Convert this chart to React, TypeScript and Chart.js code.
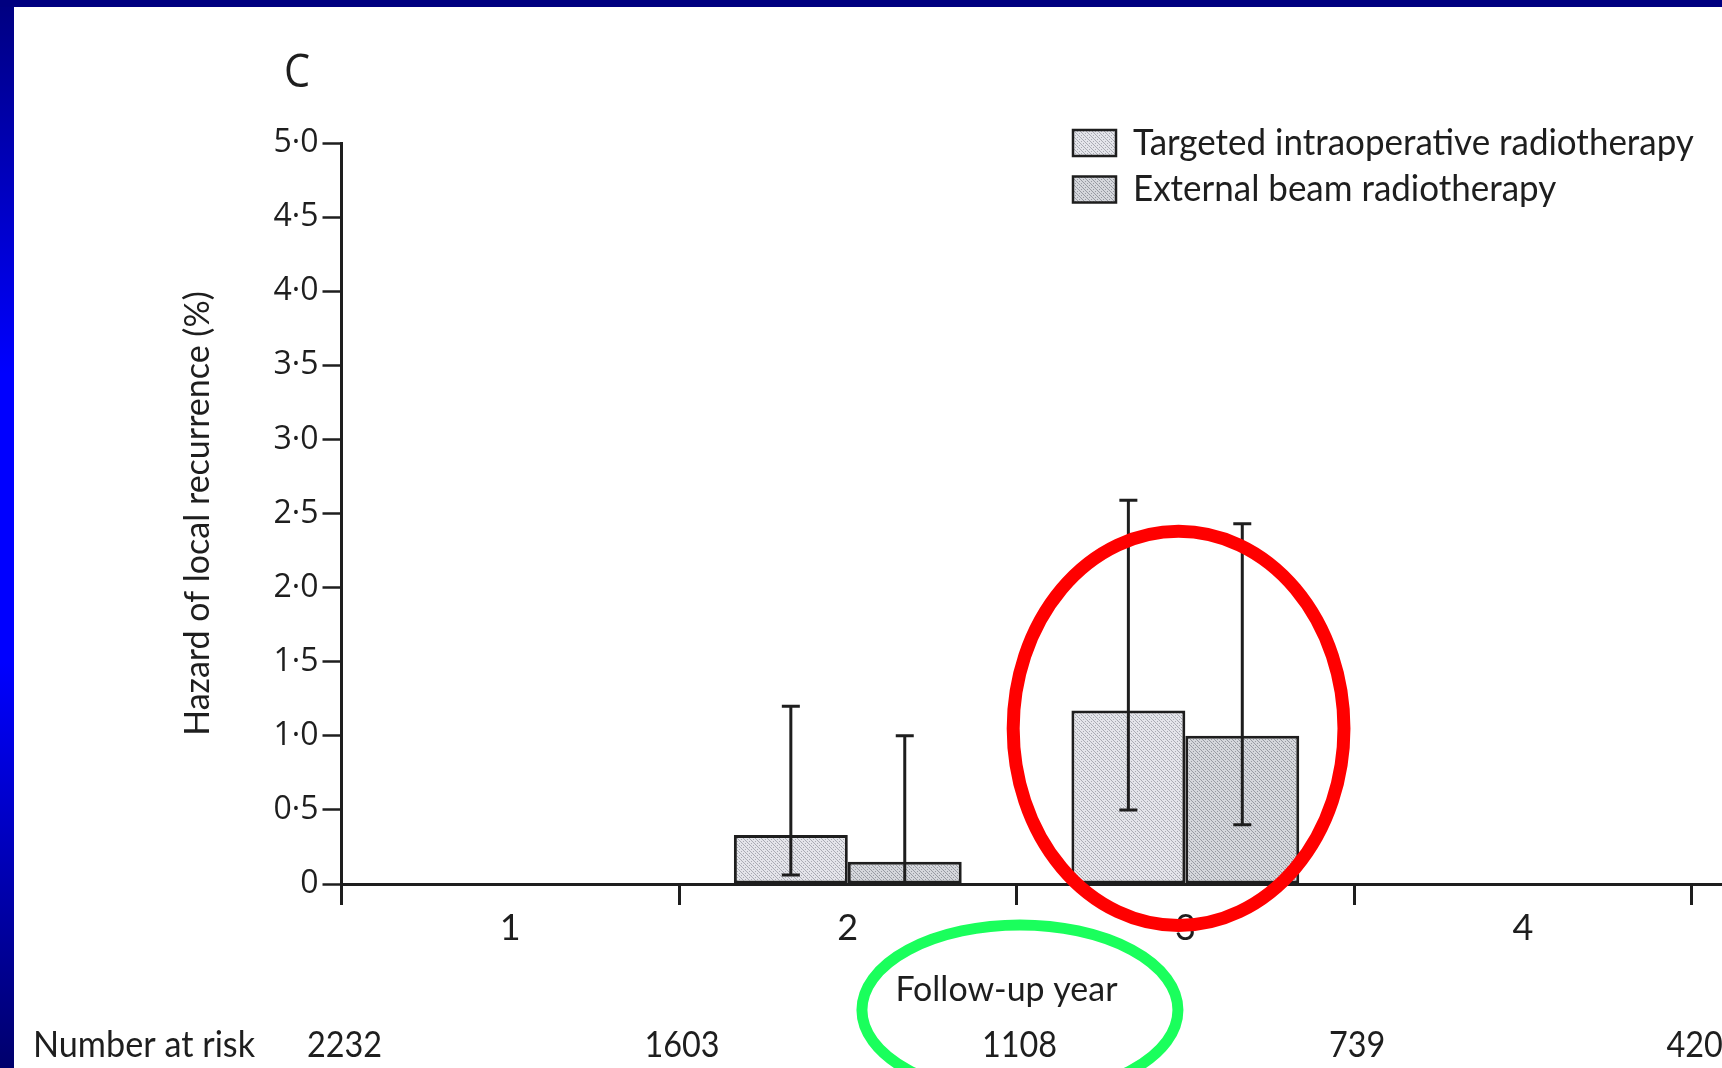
import React, { useEffect, useRef } from 'react';
import { Chart, registerables } from 'chart.js';

Chart.register(...registerables);

// ---- data ----
const YEARS = [1, 2, 3, 4];
const YEAR_LABELS = ['1', '2', '3', '4'];
const SERIES_NAMES = ['Targeted intraoperative radiotherapy', 'External beam radiotherapy'];
const TARGIT = [0, 0.33, 1.17, 0];
const TARGIT_LOW = [null, 0.06, 0.5, null];
const TARGIT_HIGH = [null, 1.2, 2.59, null];
const EBRT = [0, 0.15, 1.0, 0];
const EBRT_LOW = [null, 0.01, 0.4, null];
const EBRT_HIGH = [null, 1.0, 2.43, null];
const Y_TICK_LABELS = ['0', '0·5', '1·0', '1·5', '2·0', '2·5', '3·0', '3·5', '4·0', '4·5', '5·0'];
const RISK_TIMES = [0, 1, 2, 3, 4];
const AT_RISK = ['2232', '1603', '1108', '739', '420'];

// ---- layout ----
const W = 1708;
const H = 1061;
const PLOT_LEFT = 327.5;
const PLOT_TOP = 136;
const PLOT_BOTTOM = 877;
const X_MAX = 4.09;
const LABEL_OFFSET = (W - PLOT_LEFT) / X_MAX / 2;

const HUMANIST = "Lato, 'Open Sans', sans-serif";
const ROUND = "'Open Sans', 'Noto Sans', sans-serif";
const INK = '#1e1e1e';

function stipple(base: string, dot: string): CanvasPattern | string {
  const c = document.createElement('canvas');
  c.width = 6;
  c.height = 6;
  const g = c.getContext('2d');
  if (!g) return base;
  g.fillStyle = base;
  g.fillRect(0, 0, 6, 6);
  g.fillStyle = dot;
  for (let r = 0; r < 6; r += 2) {
    g.fillRect(r, r, 1, 1);
    g.fillRect((r + 3) % 6, r, 1, 1);
    g.fillRect((r + 1) % 6, r + 1, 1, 1);
  }
  return g.createPattern(c, 'repeat') ?? base;
}

// draw text squeezed horizontally (the print face is a condensed sans)
function narrowText(ctx: CanvasRenderingContext2D, text: string, x: number, y: number, sx: number) {
  ctx.save();
  ctx.translate(x, y);
  ctx.scale(sx, 1);
  ctx.fillText(text, 0, 0);
  ctx.restore();
}

const errorBars = {
  id: 'errorBars',
  afterDatasetsDraw(chart: any) {
    const { ctx } = chart;
    const yScale = chart.scales.y;
    chart.data.datasets.forEach((ds: any, di: number) => {
      const meta = chart.getDatasetMeta(di);
      meta.data.forEach((bar: any, j: number) => {
        const lo = ds.errLow[j];
        const hi = ds.errHigh[j];
        if (lo == null || hi == null) return;
        const x = bar.x;
        const yl = yScale.getPixelForValue(lo);
        const yh = yScale.getPixelForValue(hi);
        ctx.save();
        ctx.strokeStyle = INK;
        ctx.lineWidth = 3;
        ctx.beginPath();
        ctx.moveTo(x, yl);
        ctx.lineTo(x, yh);
        ctx.moveTo(x - 9, yl);
        ctx.lineTo(x + 9, yl);
        ctx.moveTo(x - 9, yh);
        ctx.lineTo(x + 9, yh);
        ctx.stroke();
        ctx.restore();
      });
    });
  },
};

const decorations = {
  id: 'decorations',
  afterDraw(chart: any) {
    const { ctx } = chart;
    const xs = chart.scales.x;
    const ys = chart.scales.y;
    ctx.save();
    ctx.fillStyle = INK;

    // panel letter
    ctx.font = `46px ${ROUND}`;
    ctx.textAlign = 'center';
    ctx.textBaseline = 'middle';
    narrowText(ctx, 'C', 283, 67, 0.9);

    // legend
    chart.data.datasets.forEach((ds: any, i: number) => {
      const bx = 1059;
      const by = 123 + i * 46.5;
      ctx.fillStyle = ds.backgroundColor;
      ctx.fillRect(bx, by, 43, 26);
      ctx.strokeStyle = INK;
      ctx.lineWidth = 2.5;
      ctx.strokeRect(bx, by, 43, 26);
      ctx.fillStyle = INK;
      ctx.font = `37px ${HUMANIST}`;
      ctx.textAlign = 'left';
      ctx.textBaseline = 'middle';
      narrowText(ctx, ds.label, 1119, by + 13, 0.945);
    });

    // x-axis title, set under the 2-year tick
    ctx.font = `35px ${HUMANIST}`;
    ctx.textAlign = 'center';
    ctx.textBaseline = 'middle';
    narrowText(ctx, 'Follow-up year', xs.getPixelForValue(1.97), 983, 0.97);

    // number at risk
    ctx.font = `36px ${HUMANIST}`;
    ctx.textAlign = 'left';
    narrowText(ctx, 'Number at risk', 19, 1038, 0.95);
    ctx.textAlign = 'center';
    RISK_TIMES.forEach((t, i) => {
      narrowText(ctx, AT_RISK[i], xs.getPixelForValue(t) + 3, 1038, 0.9);
    });

    // highlight rings
    ctx.strokeStyle = '#ff0000';
    ctx.lineWidth = 13;
    const cx = xs.getPixelForValue(2.48);
    const cy = ys.getPixelForValue(1.05);
    const rx = xs.getPixelForValue(2.48 + 0.49) - cx;
    const ry = cy - ys.getPixelForValue(1.05 + 1.33);
    ctx.beginPath();
    ctx.ellipse(cx, cy, rx, ry, 0, 0, Math.PI * 2);
    ctx.stroke();

    ctx.strokeStyle = '#1aff5c';
    ctx.lineWidth = 11;
    ctx.beginPath();
    ctx.ellipse(xs.getPixelForValue(2.01), PLOT_BOTTOM + 126, 158, 85, 0, 0, Math.PI * 2);
    ctx.stroke();
    ctx.restore();
  },
};

export default function App() {
  const ref = useRef<HTMLCanvasElement>(null);

  useEffect(() => {
    if (!ref.current) return;
    const fillA = stipple('#e4e5ea', '#a9abb3');
    const fillB = stipple('#d5d7dc', '#979aa2');
    const chart = new Chart(ref.current, {
      type: 'bar',
      data: {
        datasets: [
          {
            label: SERIES_NAMES[0],
            data: YEARS.map((yr, i) => ({ x: yr - 0.5, y: TARGIT[i] })),
            backgroundColor: fillA as any,
            borderColor: INK,
            borderWidth: 3,
            borderSkipped: false,
            categoryPercentage: 0.675,
            barPercentage: 1.0,
            errLow: TARGIT_LOW,
            errHigh: TARGIT_HIGH,
          } as any,
          {
            label: SERIES_NAMES[1],
            data: YEARS.map((yr, i) => ({ x: yr - 0.5, y: EBRT[i] })),
            backgroundColor: fillB as any,
            borderColor: INK,
            borderWidth: 3,
            borderSkipped: false,
            categoryPercentage: 0.675,
            barPercentage: 1.0,
            errLow: EBRT_LOW,
            errHigh: EBRT_HIGH,
          } as any,
        ],
      },
      options: {
        responsive: false,
        animation: false,
        layout: { padding: { top: PLOT_TOP, left: 0, right: 0, bottom: 0 } },
        plugins: {
          legend: { display: false },
          tooltip: { enabled: false },
        },
        scales: {
          x: {
            type: 'linear',
            min: 0,
            max: X_MAX,
            offset: false,
            afterFit: (s: any) => {
              s.height = H - PLOT_BOTTOM;
            },
            ticks: {
              stepSize: 1,
              includeBounds: false,
              autoSkip: false,
              maxRotation: 0,
              labelOffset: LABEL_OFFSET,
              padding: 5,
              color: INK,
              font: { family: HUMANIST, size: 36, lineHeight: 1 },
              callback: (v: any) => YEAR_LABELS[v] ?? '',
            },
            grid: {
              offset: false,
              drawOnChartArea: false,
              drawTicks: true,
              tickLength: 21,
              tickWidth: 3,
              tickColor: INK,
            },
            border: { display: true, color: INK, width: 3 },
            title: { display: false },
          },
          y: {
            type: 'linear',
            min: 0,
            max: 5,
            afterFit: (s: any) => {
              s.width = PLOT_LEFT;
            },
            ticks: {
              stepSize: 0.5,
              padding: 4,
              color: INK,
              font: { family: ROUND, size: 32 },
              callback: (_v: any, i: number) => Y_TICK_LABELS[i],
            },
            grid: {
              drawOnChartArea: false,
              drawTicks: true,
              tickLength: 19,
              tickWidth: 2.5,
              tickColor: INK,
            },
            border: { display: true, color: INK, width: 3 },
            title: {
              display: true,
              text: 'Hazard of local recurrence (%)',
              color: INK,
              font: { family: HUMANIST, size: 34 },
              padding: { top: 164, bottom: 0 },
            },
          },
        },
      } as any,
      plugins: [errorBars, decorations],
    });
    return () => chart.destroy();
  }, []);

  return (
    <div
      style={{
        position: 'fixed',
        left: 0,
        top: 0,
        width: 1722,
        height: 1068,
        overflow: 'hidden',
        background: 'linear-gradient(to bottom, #000080 0%, #0000ff 35%, #0000ff 62%, #00006c 100%)',
      }}
    >
      <div style={{ position: 'absolute', left: 0, top: 0, width: 1722, height: 7, background: '#000080' }} />
      <div style={{ position: 'absolute', left: 14, top: 7, width: W, height: H, background: '#ffffff' }}>
        <canvas ref={ref} width={W} height={H} style={{ display: 'block', width: W, height: H }} />
      </div>
    </div>
  );
}
